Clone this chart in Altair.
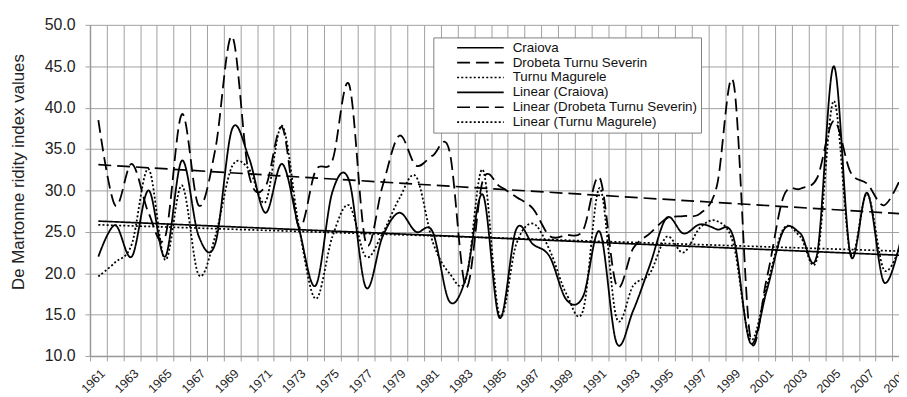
import altair as alt
import pandas as pd

years = list(range(1961, 2010))

craiova = [22.0, 25.8, 22.0, 30.0, 22.0, 33.6, 24.5, 23.6, 37.4, 34.0,
           27.3, 33.2, 25.4, 18.5, 29.8, 31.2, 18.3, 24.4, 27.3, 25.0,
           25.0, 16.6, 19.5, 29.5, 14.6, 25.3, 23.5, 22.0, 16.8, 17.2,
           25.0, 11.6, 15.5, 21.0, 26.7, 24.8, 25.9, 25.3, 24.3, 11.6,
           18.0, 25.2, 24.8, 22.3, 45.0, 22.2, 29.7, 18.9, 24.0]

drobeta = [38.5, 28.2, 33.2, 27.3, 24.4, 39.2, 28.2, 35.0, 48.6, 32.0,
           30.5, 37.6, 25.6, 32.4, 33.6, 42.8, 23.7, 30.5, 36.6, 33.0,
           34.2, 34.8, 18.3, 31.2, 30.5, 29.2, 27.8, 24.5, 24.6, 25.2,
           31.5, 18.5, 23.0, 24.8, 26.6, 26.9, 27.2, 30.5, 43.0, 12.3,
           19.5, 29.3, 30.2, 31.5, 38.4, 32.2, 30.8, 28.2, 31.5]

turnu = [19.6, 21.3, 23.5, 32.6, 21.6, 30.6, 19.8, 24.5, 32.9, 32.6,
         28.6, 37.8, 25.6, 16.9, 24.4, 28.2, 22.0, 24.8, 29.0, 31.7,
         23.8, 20.0, 19.3, 32.5, 14.9, 23.5, 26.0, 22.8, 17.5, 15.5,
         30.3, 14.6, 18.5, 20.0, 24.4, 22.5, 25.5, 26.3, 23.5, 12.0,
         18.5, 25.4, 24.4, 21.8, 40.8, 22.4, 29.6, 20.4, 23.5]

stations = ["Craiova", "Drobeta Turnu Severin", "Turnu Magurele"]
labels = stations + ["Linear (Craiova)", "Linear (Drobeta Turnu Severin)",
                     "Linear (Turnu Magurele)"]
dashes = [[1, 0], [13, 6], [2, 2.2], [1, 0], [13, 6], [2, 2.2]]
y_ticks = [10, 15, 20, 25, 30, 35, 40, 45, 50]

rows = []
for st, vals in zip(stations, [craiova, drobeta, turnu]):
    for yr, v in zip(years, vals):
        rows.append({"year": yr, "value": v, "station": st})
df = pd.DataFrame(rows)

boundaries = [yr - 0.5 for yr in years]

FONT = "Liberation Sans"
GRID = "#a0a0a0"

x_scale = alt.Scale(domain=[1960.5, 2008.9], nice=False, zero=False)
y_scale = alt.Scale(domain=[10, 50], nice=False, zero=False)
dash_scale = alt.Scale(domain=labels, range=dashes)

x_axis = alt.Axis(
    values=boundaries, tickCount=200,
    labelExpr="(datum.value + 0.5) % 2 == 1 ? format(datum.value + 0.5, 'd') : ''",
    labelOffset=8.43, labelAngle=-45, labelAlign="right", labelBaseline="top",
    labelFlush=False, labelOverlap=False, labelFontSize=12.5, labelPadding=6,
    labelColor="#222", grid=True, gridColor=GRID, gridWidth=1,
    tickSize=5, tickColor=GRID, domainColor="#999", domainWidth=1.5, title=None,
)
y_axis = alt.Axis(
    values=y_ticks, format=".1f", labelFontSize=16, labelPadding=10,
    labelColor="#222", grid=True, gridColor=GRID, gridWidth=1,
    tickSize=5, tickColor=GRID, domainColor="#999", domainWidth=1.5,
    title="De Martonne ridity index values", titleFontSize=17,
    titleFontWeight="normal", titleColor="#222", titleAngle=-90,
    titleX=-72, titleY=148, titleAlign="center", titleBaseline="middle",
)
legend = alt.Legend(
    orient="none", legendX=346.3, legendY=12.7, title=None,
    symbolType="stroke", symbolSize=2209, symbolStrokeWidth=1.7,
    symbolStrokeColor="black", clipHeight=14.8, rowPadding=0, padding=3,
    symbolOffset=20, labelOffset=8, labelFontSize=13.5, labelColor="#111",
    labelLimit=400, fillColor="white", strokeColor="#808080",
)

base = alt.Chart(df).transform_calculate(label="datum.station")

lines = base.mark_line(interpolate="cardinal", color="black", strokeWidth=1.8,
                       clip=True).encode(
    x=alt.X("year:Q", scale=x_scale, axis=x_axis),
    y=alt.Y("value:Q", scale=y_scale, axis=y_axis),
    strokeDash=alt.StrokeDash("label:N", scale=dash_scale, legend=legend),
)

trend = alt.Chart(df).transform_regression(
    "year", "value", groupby=["station"], extent=[1961, 2009]
).transform_calculate(
    label="'Linear (' + datum.station + ')'"
).mark_line(color="black", strokeWidth=1.7, clip=True).encode(
    x=alt.X("year:Q", scale=x_scale),
    y=alt.Y("value:Q", scale=y_scale),
    strokeDash=alt.StrokeDash("label:N", scale=dash_scale, legend=legend),
)

chart = alt.layer(lines, trend).properties(
    width=816, height=334,
    autosize=alt.AutoSizeParams(type="none"),
    padding={"left": 82.7, "top": 15.3, "right": 0, "bottom": 40},
).configure(font=FONT).configure_view(stroke=None)

chart.save("out.html", embed_options={"renderer": "svg", "actions": False})
